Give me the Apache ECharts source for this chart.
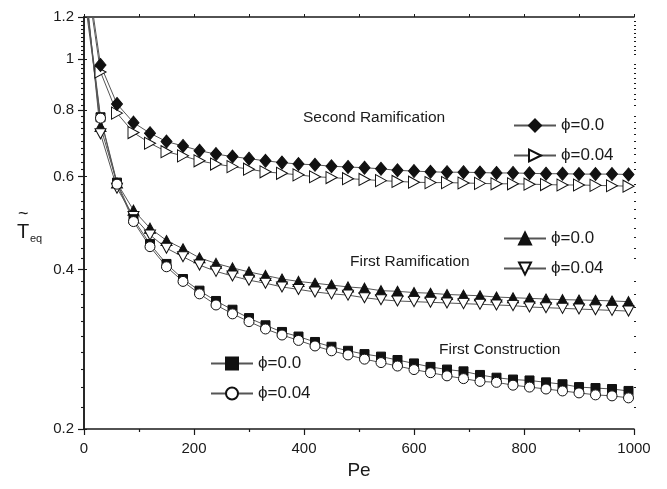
<!DOCTYPE html>
<html>
<head>
<meta charset="utf-8">
<script src="https://cdn.jsdelivr.net/npm/echarts@6/dist/echarts.min.js"></script>
<style>html,body{margin:0;padding:0;background:#fff}#c{width:667px;height:489px}</style>
</head>
<body>
<div id="c"></div>
<script>
// ---- data ----
var pe = [1, 30, 60, 90, 120, 150, 180, 210, 240, 270, 300, 330, 360, 390, 420, 450, 480, 510, 540, 570, 600, 630, 660, 690, 720, 750, 780, 810, 840, 870, 900, 930, 960, 990];
var secondRamPhi0 = [1.57, 0.974, 0.822, 0.758, 0.724, 0.698, 0.685, 0.671, 0.661, 0.654, 0.648, 0.642, 0.637, 0.633, 0.631, 0.627, 0.625, 0.623, 0.620, 0.616, 0.614, 0.612, 0.611, 0.611, 0.610, 0.609, 0.609, 0.608, 0.607, 0.607, 0.606, 0.606, 0.606, 0.605];
var secondRamPhi004 = [1.52, 0.945, 0.790, 0.726, 0.693, 0.668, 0.656, 0.642, 0.633, 0.626, 0.619, 0.612, 0.608, 0.604, 0.599, 0.597, 0.594, 0.592, 0.589, 0.587, 0.585, 0.584, 0.584, 0.583, 0.582, 0.581, 0.581, 0.580, 0.579, 0.578, 0.578, 0.577, 0.576, 0.575];
var firstRamPhi0 = [1.39, 0.745, 0.583, 0.518, 0.479, 0.454, 0.438, 0.421, 0.411, 0.403, 0.396, 0.390, 0.384, 0.380, 0.377, 0.374, 0.371, 0.369, 0.365, 0.364, 0.362, 0.361, 0.359, 0.358, 0.357, 0.355, 0.354, 0.353, 0.352, 0.351, 0.3505, 0.350, 0.349, 0.348];
var firstRamPhi004 = [1.44, 0.722, 0.570, 0.504, 0.465, 0.439, 0.423, 0.408, 0.397, 0.389, 0.382, 0.377, 0.371, 0.367, 0.363, 0.360, 0.358, 0.354, 0.351, 0.349, 0.348, 0.347, 0.346, 0.345, 0.344, 0.343, 0.342, 0.340, 0.339, 0.338, 0.337, 0.336, 0.335, 0.334];
var firstConPhi0 = [1.36, 0.776, 0.584, 0.498, 0.447, 0.410, 0.384, 0.365, 0.349, 0.336, 0.324, 0.314, 0.305, 0.299, 0.292, 0.286, 0.281, 0.277, 0.274, 0.270, 0.266, 0.262, 0.259, 0.257, 0.253, 0.250, 0.248, 0.247, 0.245, 0.243, 0.240, 0.239, 0.238, 0.236];
var firstConPhi004 = [1.31, 0.773, 0.580, 0.493, 0.442, 0.405, 0.380, 0.360, 0.343, 0.330, 0.319, 0.309, 0.301, 0.294, 0.287, 0.281, 0.276, 0.271, 0.267, 0.263, 0.259, 0.2555, 0.252, 0.249, 0.246, 0.245, 0.242, 0.240, 0.238, 0.236, 0.234, 0.232, 0.231, 0.229];
var yMajorTicks = [0.2, 0.4, 0.6, 0.8, 1, 1.2];
var yTickLabels = ['0.2', '0.4', '0.6', '0.8', '1', '1.2'];
var yMinorTicks = [0.22, 0.24, 0.26, 0.28, 0.30, 0.32, 0.34, 0.36, 0.38, 0.42, 0.44, 0.46, 0.48, 0.50, 0.52, 0.54, 0.56, 0.58, 0.62, 0.64, 0.66, 0.68, 0.70, 0.72, 0.74, 0.76, 0.78, 0.82, 0.84, 0.86, 0.88, 0.90, 0.92, 0.94, 0.96, 0.98, 1.02, 1.04, 1.06, 1.08, 1.10, 1.12, 1.14, 1.16, 1.18];
var legendLabels = { SR0: 'ϕ=0.0', SR4: 'ϕ=0.04', FR0: 'ϕ=0.0', FR4: 'ϕ=0.04', FC0: 'ϕ=0.0', FC4: 'ϕ=0.04' };
var annotations = ['Second Ramification', 'First Ramification', 'First Construction'];

function pairs(ys) { return ys.map(function (v, i) { return [pe[i], v]; }); }

var FONT = 'Liberation Sans, Arial, sans-serif';
var INK = '#1a1a1a';
var LINE = '#555';

function mkSeries(name, ys, symbol, size, rotate, filled) {
  return {
    name: name, type: 'line', data: pairs(ys), clip: true,
    symbol: symbol, symbolSize: size, symbolRotate: rotate || 0,
    showSymbol: true, showAllSymbol: true,
    lineStyle: { color: LINE, width: 1 },
    itemStyle: { color: filled ? '#111' : '#fff', borderColor: '#111', borderWidth: 1, opacity: 1 },
    emphasis: { disabled: true }, animation: false
  };
}

// minor y ticks drawn at positions given by the y axis scale
function tickSeries(values, leftLen, rightLen) {
  return {
    type: 'custom', silent: true, clip: false, z: 5,
    xAxisIndex: 0, yAxisIndex: 0,
    data: values.map(function (v) { return [0, v]; }),
    renderItem: function (params, api) {
      var p = api.coord([0, api.value(1)]);
      var cs = params.coordSys;
      var y = Math.round(p[1]) + 0.5;
      return {
        type: 'group', children: [
          { type: 'line', shape: { x1: cs.x - leftLen, y1: y, x2: cs.x, y2: y }, style: { stroke: INK, lineWidth: 1.1 } },
          { type: 'line', shape: { x1: cs.x + cs.width, y1: y, x2: cs.x + cs.width + rightLen, y2: y }, style: { stroke: INK, lineWidth: 1 } }
        ]
      };
    }
  };
}

var chart = echarts.init(document.getElementById('c'), null, { renderer: 'canvas' });

function labelFor(v) {
  var best = 0;
  for (var i = 0; i < yMajorTicks.length; i++) {
    if (Math.abs(yMajorTicks[i] - v) < Math.abs(yMajorTicks[best] - v)) best = i;
  }
  return yTickLabels[best];
}

var legendCommon = {
  orient: 'vertical', padding: 0, itemWidth: 42, itemHeight: 15, itemGap: 13,
  selectedMode: false,
  textStyle: { fontFamily: FONT, fontSize: 17, color: INK },
  formatter: function (n) { return legendLabels[n]; }
};

chart.setOption({
  animation: false,
  backgroundColor: '#fff',
  grid: { left: 84, right: 33, top: 17, bottom: 60, containLabel: false },
  xAxis: [
    {
      type: 'value', min: 0, max: 1000, interval: 200, position: 'bottom', offset: 0,
      name: 'Pe', nameLocation: 'middle', nameGap: 32,
      nameTextStyle: { fontFamily: FONT, fontSize: 19, color: INK },
      axisLine: { show: true, lineStyle: { color: INK, width: 1.5 } },
      axisTick: { show: true, inside: false, length: 6, lineStyle: { color: INK, width: 1.2 } },
      minorTick: { show: true, splitNumber: 2, length: 3, lineStyle: { color: INK, width: 1.2 } },
      axisLabel: { fontFamily: FONT, fontSize: 15, color: INK, margin: 12, formatter: function (v) { return String(v); } },
      splitLine: { show: false }
    },
    {
      type: 'value', min: 0, max: 1000, interval: 100, position: 'top', offset: 0,
      axisLine: { show: true, lineStyle: { color: INK, width: 1.5 } },
      axisTick: { show: true, inside: false, length: 3, lineStyle: { color: INK, width: 1 } },
      axisLabel: { show: false }, splitLine: { show: false }
    }
  ],
  yAxis: [
    {
      type: 'log', logBase: 10, min: 0.2, max: 1.2, position: 'left', offset: 0,
      axisLine: { show: true, lineStyle: { color: INK, width: 1.5 } },
      axisTick: { show: true, customValues: yMajorTicks, length: 6, lineStyle: { color: INK, width: 1.2 } },
      axisLabel: { show: true, customValues: yMajorTicks, formatter: labelFor, fontFamily: FONT, fontSize: 15, color: INK, margin: 10 },
      splitLine: { show: false }
    },
    {
      type: 'log', logBase: 10, min: 0.2, max: 1.2, position: 'right', offset: 0,
      axisLine: { show: true, lineStyle: { color: INK, width: 1.5 } },
      axisTick: { show: true, customValues: yMajorTicks, length: 3, lineStyle: { color: INK, width: 1 } },
      axisLabel: { show: false }, splitLine: { show: false }
    }
  ],
  legend: [
    Object.assign({}, legendCommon, { left: 513, top: 117, data: ['SR0', 'SR4'] }),
    Object.assign({}, legendCommon, { left: 503, top: 230, data: ['FR0', 'FR4'] }),
    Object.assign({}, legendCommon, { left: 210, top: 355, data: ['FC0', 'FC4'] })
  ],
  graphic: [
    { type: 'text', x: 303, y: 118, style: { text: annotations[0], fontFamily: FONT, fontSize: 15.5, fill: INK, verticalAlign: 'middle' } },
    { type: 'text', x: 350, y: 262, style: { text: annotations[1], fontFamily: FONT, fontSize: 15.5, fill: INK, verticalAlign: 'middle' } },
    { type: 'text', x: 439, y: 350, style: { text: annotations[2], fontFamily: FONT, fontSize: 15.5, fill: INK, verticalAlign: 'middle' } },
    { type: 'text', x: 18, y: 214, style: { text: '~', fontFamily: FONT, fontSize: 18, fill: INK, verticalAlign: 'middle' } },
    { type: 'text', x: 17, y: 232, style: { text: 'T', fontFamily: FONT, fontSize: 20, fill: INK, verticalAlign: 'middle' } },
    { type: 'text', x: 30, y: 239, style: { text: 'eq', fontFamily: FONT, fontSize: 11, fill: INK, verticalAlign: 'middle' } }
  ],
  series: [
    tickSeries(yMinorTicks, 3, 2),
    mkSeries('SR4', secondRamPhi004, 'triangle', [12, 11], -90, false),
    mkSeries('SR0', secondRamPhi0, 'diamond', [11, 13], 0, true),
    mkSeries('FR0', firstRamPhi0, 'triangle', [11, 10], 0, true),
    mkSeries('FR4', firstRamPhi004, 'triangle', [11, 10], 180, false),
    mkSeries('FC0', firstConPhi0, 'rect', 9, 0, true),
    mkSeries('FC4', firstConPhi004, 'circle', 10, 0, false)
  ]
});
</script>
</body>
</html>
